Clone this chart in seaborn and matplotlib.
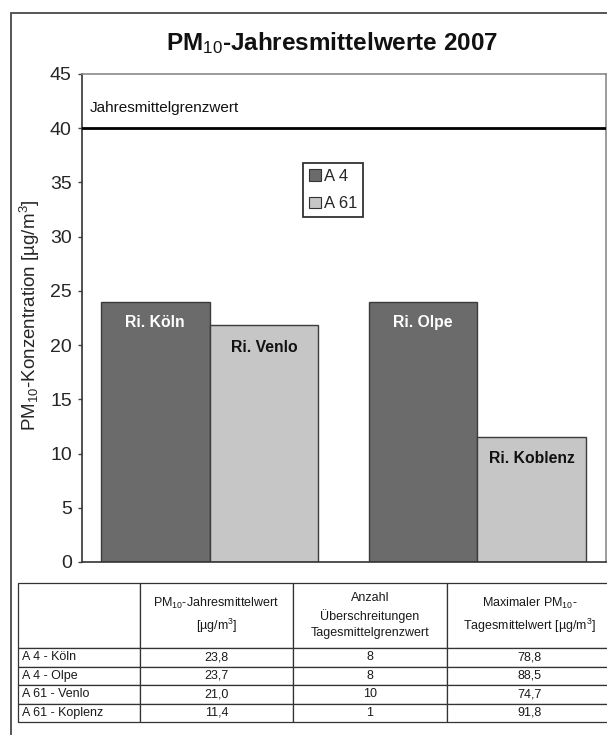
import matplotlib
matplotlib.use("Agg")
import matplotlib.pyplot as plt
from matplotlib.lines import Line2D
import seaborn as sns
import pandas as pd

# ---- data ----
gruppe = ["Köln/Venlo", "Köln/Venlo", "Olpe/Koblenz", "Olpe/Koblenz"]
autobahn = ["A 4", "A 61", "A 4", "A 61"]
richtung = ["Ri. Köln", "Ri. Venlo", "Ri. Olpe", "Ri. Koblenz"]
werte = [24.0, 21.85, 24.0, 11.55]
grenzwert = 40
y_ticks = [0, 5, 10, 15, 20, 25, 30, 35, 40, 45]

tab_rows = ["A 4 - Köln", "A 4 - Olpe", "A 61 - Venlo", "A 61 - Koplenz"]
tab_header = ["", "PM$_{10}$-Jahresmittelwert\n[µg/m$^3$]",
              "Anzahl\nÜberschreitungen\nTagesmittelgrenzwert",
              "Maximaler PM$_{10}$-\nTagesmittelwert [µg/m$^3$]"]
tab_jahresmittel = ["23,8", "23,7", "21,0", "11,4"]
tab_anzahl = ["8", "8", "10", "1"]
tab_maximal = ["78,8", "88,5", "74,7", "91,8"]

sns.set_theme(style="white")
plt.rcParams["font.family"] = ["Liberation Sans", "DejaVu Sans"]
plt.rcParams["mathtext.fontset"] = "custom"
plt.rcParams["mathtext.rm"] = "Liberation Sans"
plt.rcParams["mathtext.it"] = "Liberation Sans:italic"
plt.rcParams["mathtext.bf"] = "Liberation Sans:bold"

W, H = 607, 735
fig = plt.figure(figsize=(W / 100, H / 100), dpi=100)
fig.patch.set_facecolor("white")

def fx(px):
    return px / W

def fy(py):
    return 1 - py / H

AX_L, AX_R, AX_T, AX_B = 82, 606, 74, 562
ax = fig.add_axes([fx(AX_L), fy(AX_B), fx(AX_R) - fx(AX_L), fy(AX_T) - fy(AX_B)])

df = pd.DataFrame({"gruppe": gruppe, "autobahn": autobahn,
                   "richtung": richtung, "wert": werte})
dark, light = "#6b6b6b", "#c6c6c6"
sns.barplot(data=df, x="gruppe", y="wert", hue="autobahn",
            palette=[dark, light], width=0.813, gap=0,
            edgecolor="#3c3c3c", linewidth=1.0, saturation=1, ax=ax)

ax.set_xlim(-0.476, 1.48)
ax.set_ylim(0, 45)
ax.set_yticks(y_ticks)
ax.tick_params(axis="y", labelsize=14, length=3, width=1, direction="out",
               color="#444444", pad=4.3, left=True)
ax.tick_params(axis="x", bottom=False, labelbottom=False)
ax.set_xlabel("")
ax.set_ylabel("PM$_{10}$-Konzentration [µg/m$^3$]", fontsize=13.5)
ax.yaxis.label.set_va("center")
ax.yaxis.set_label_coords((30 - AX_L) / (AX_R - AX_L), (AX_B - 315) / (AX_B - AX_T))

for side in ["top", "right"]:
    ax.spines[side].set_visible(True)
    ax.spines[side].set_color("#8a8a8a")
    ax.spines[side].set_linewidth(1.2)
for side in ["left", "bottom"]:
    ax.spines[side].set_color("#333333")
    ax.spines[side].set_linewidth(1.2)

# limit line
ax.axhline(grenzwert, color="black", lw=2.0, zorder=3)
ax.text((90 - AX_L) / (AX_R - AX_L), 41.87, "Jahresmittelgrenzwert",
        transform=ax.get_yaxis_transform(),
        fontsize=11, va="center", ha="left", color="#111111")

# bar labels
lab_by_hue = {"A 4": [r for r, a in zip(richtung, autobahn) if a == "A 4"],
              "A 61": [r for r, a in zip(richtung, autobahn) if a == "A 61"]}
for cont, hue in zip(ax.containers, ["A 4", "A 61"]):
    col = "white" if hue == "A 4" else "#111111"
    off = -14.6 if hue == "A 4" else -16
    for patch, lab in zip(cont.patches, lab_by_hue[hue]):
        ax.annotate(lab, (patch.get_x() + patch.get_width() / 2, patch.get_height()),
                    xytext=(0, off), textcoords="offset points",
                    ha="center", va="center", fontsize=11.3, fontweight="bold",
                    color=col)

# legend
handles, labels = ax.get_legend_handles_labels()
leg = ax.legend(handles, labels, loc="upper left",
                bbox_to_anchor=(fx(303), fy(163)), bbox_transform=fig.transFigure,
                fontsize=12, handlelength=0.7, handleheight=0.7, handletextpad=0.2,
                labelspacing=0.75, borderpad=0.35, borderaxespad=0,
                frameon=True, fancybox=False, edgecolor="black")
leg.get_frame().set_linewidth(1.3)
for h in leg.legend_handles:
    h.set_edgecolor("#333333")
    h.set_linewidth(0.8)

# title
fig.text(fx(332), fy(43), "PM$_{10}$-Jahresmittelwerte 2007", ha="center",
         va="center", fontsize=17.5, fontweight="bold", color="#111111")

# outer border
fig.add_artist(Line2D([fx(11), 1.0], [fy(13), fy(13)], color="#555555", lw=1.4,
                      transform=fig.transFigure))
fig.add_artist(Line2D([fx(11), fx(11)], [fy(13), 0.0], color="#555555", lw=1.4,
                      transform=fig.transFigure))

# table
T_L, T_R, T_T, T_B = 18, 612, 583, 722
tax = fig.add_axes([fx(T_L), fy(T_B), fx(T_R) - fx(T_L), fy(T_T) - fy(T_B)])
tax.axis("off")
cell_text = [tab_header] + [[r, a, b, c] for r, a, b, c in
                            zip(tab_rows, tab_jahresmittel, tab_anzahl, tab_maximal)]
col_w = [140 - T_L, 293 - 140, 447 - 293, T_R - 447]
tbl = tax.table(cellText=cell_text, colWidths=[w / sum(col_w) for w in col_w],
                cellLoc="center", bbox=[0, 0, 1, 1])
tbl.auto_set_font_size(False)
tbl.set_fontsize(9)
for (r, c), cell in tbl.get_celld().items():
    cell.set_edgecolor("#333333")
    cell.set_linewidth(0.9)
    cell.set_height(65 if r == 0 else 18.5)
    cell.get_text().set_color("#1a1a1a")
    if r > 0 and c == 0:
        cell.get_text().set_ha("left")
        cell.PAD = 0.03
    if r == 0:
        cell.get_text().set_linespacing(1.5)

fig.savefig("out.png", dpi=100, facecolor="white")
